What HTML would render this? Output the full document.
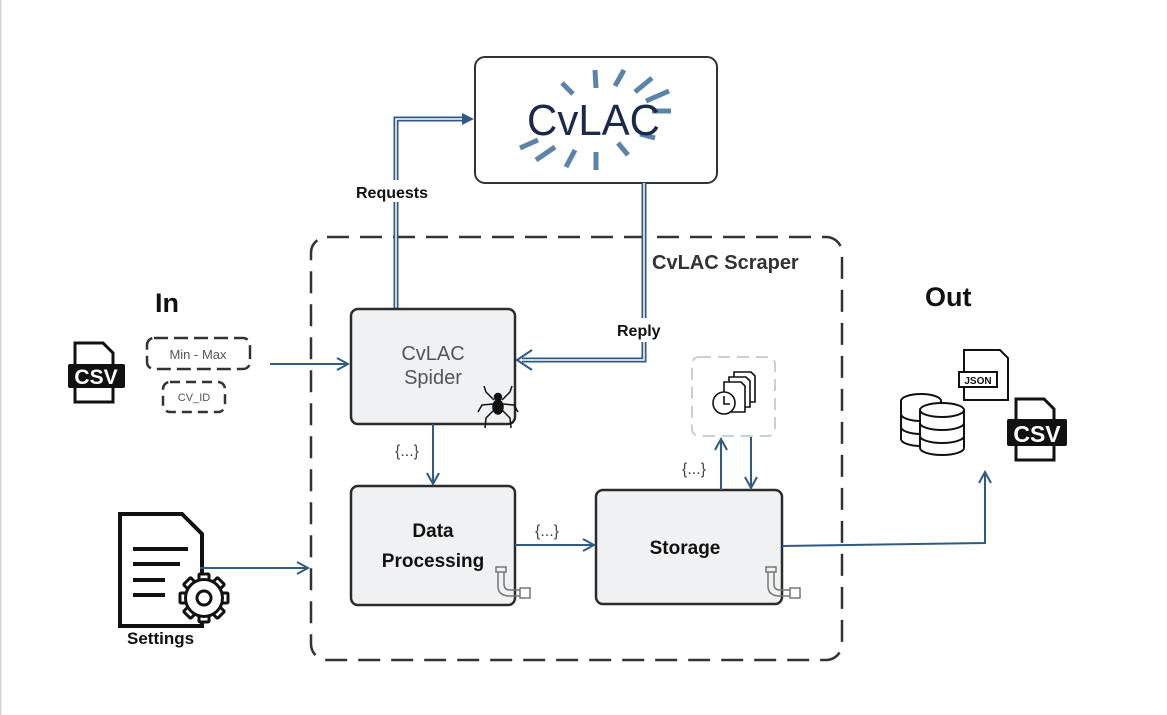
<!DOCTYPE html>
<html><head><meta charset="utf-8"><style>
html,body{margin:0;padding:0;background:#fff;width:1167px;height:715px;overflow:hidden}
svg{display:block}
text{font-family:"Liberation Sans","DejaVu Sans",sans-serif}
</style></head><body>
<svg width="1167" height="715" viewBox="0 0 1167 715" xmlns="http://www.w3.org/2000/svg">
<defs>
<marker id="oa" markerWidth="14" markerHeight="14" refX="12" refY="7" orient="auto" markerUnits="userSpaceOnUse">
<path d="M1,1 L12,7 L1,13" fill="none" stroke="#2f5a85" stroke-width="2"/></marker>
</defs>
<line x1="0.5" y1="0" x2="0.5" y2="715" stroke="#d4d4d4" stroke-width="2"/>

<!-- dashed container -->
<rect x="311" y="237" width="531" height="423" rx="16" fill="none" stroke="#333" stroke-width="2.5" stroke-dasharray="22,11"/>
<text x="652" y="269" font-size="20" font-weight="bold" fill="#333">CvLAC Scraper</text>

<!-- CvLAC box -->
<rect x="475" y="57" width="242" height="126" rx="10" fill="#fff" stroke="#333" stroke-width="2"/>
<g stroke="#5b84ab" stroke-width="5" stroke-linecap="butt">
<line x1="595" y1="70" x2="596" y2="88"/><line x1="624" y1="70" x2="615" y2="86"/><line x1="652" y1="78" x2="635" y2="92"/>
<line x1="669" y1="91" x2="646" y2="101"/><line x1="671" y1="111" x2="652" y2="111"/><line x1="562" y1="83" x2="573" y2="94"/>
<line x1="520" y1="148" x2="538" y2="140"/><line x1="536" y1="160" x2="555" y2="147"/><line x1="566" y1="167" x2="575" y2="150"/>
<line x1="596" y1="170" x2="596" y2="152"/><line x1="628" y1="155" x2="618" y2="143"/><line x1="655" y1="138" x2="640" y2="134"/>
</g>
<text x="527" y="135" font-size="44" fill="#1c2a4a" textLength="133" lengthAdjust="spacingAndGlyphs">CvLAC</text>

<!-- Requests connector (double) -->
<path d="M396,309 V119 H466" fill="none" stroke="#2f5a85" stroke-width="5"/>
<path d="M396,309 V119 H466" fill="none" stroke="#fff" stroke-width="1.5"/>
<path d="M462,113 L474,119 L462,125 Z" fill="#2f5a85"/>
<rect x="354" y="180" width="88" height="22" fill="#fff"/>
<text x="356" y="198" font-size="16" font-weight="bold" fill="#111">Requests</text>

<!-- Reply connector (double) -->
<path d="M644,183 V360 H522" fill="none" stroke="#2f5a85" stroke-width="5"/>
<path d="M644,183 V360 H522" fill="none" stroke="#fff" stroke-width="1.5"/>
<path d="M532,350 L517,360 L532,370" fill="none" stroke="#2f5a85" stroke-width="2"/>
<rect x="614" y="318" width="58" height="24" fill="#fff"/>
<text x="617" y="336" font-size="16" font-weight="bold" fill="#111">Reply</text>

<!-- boxes -->
<rect x="351" y="309" width="164" height="115" rx="7" fill="#f0f1f3" stroke="#2b2b2b" stroke-width="2.5"/>
<text x="433" y="360" font-size="20" fill="#555" text-anchor="middle">CvLAC</text>
<text x="433" y="384" font-size="20" fill="#555" text-anchor="middle">Spider</text>
<rect x="351" y="486" width="164" height="119" rx="7" fill="#f0f1f3" stroke="#2b2b2b" stroke-width="2.5"/>
<text x="433" y="537" font-size="19" font-weight="bold" fill="#111" text-anchor="middle">Data</text>
<text x="433" y="567" font-size="19" font-weight="bold" fill="#111" text-anchor="middle">Processing</text>
<rect x="596" y="490" width="186" height="114" rx="7" fill="#f0f1f3" stroke="#2b2b2b" stroke-width="2.5"/>
<text x="685" y="554" font-size="19" font-weight="bold" fill="#111" text-anchor="middle">Storage</text>

<!-- spider -->
<g stroke="#111" stroke-width="1.5" fill="none">
<ellipse cx="498" cy="407" rx="5" ry="7" fill="#111"/><circle cx="498" cy="397" r="3.5" fill="#111"/>
<path d="M494,400 L486,392 L484,386"/><path d="M502,400 L510,392 L512,386"/>
<path d="M493,404 L482,405 L478,412"/><path d="M503,404 L514,405 L518,412"/>
<path d="M494,410 L486,418 L485,428"/><path d="M502,410 L510,418 L511,428"/>
</g>
<!-- pipes -->
<g stroke="#777" stroke-width="1.5" fill="none">
<path d="M498,572 V586 Q498,596 510,596 H520"/><path d="M504,572 V584 Q504,590 510,590 H520"/>
<rect x="496" y="567" width="10" height="5"/><rect x="520" y="588" width="10" height="10"/>
<path d="M768,572 V586 Q768,596 780,596 H790"/><path d="M774,572 V584 Q774,590 780,590 H790"/>
<rect x="766" y="567" width="10" height="5"/><rect x="790" y="588" width="10" height="10"/>
</g>

<!-- arrows inside -->
<line x1="433" y1="424" x2="433" y2="484" stroke="#2f5a85" stroke-width="2" marker-end="url(#oa)"/>
<text x="395" y="456" font-size="16" fill="#444">{...}</text>
<line x1="515" y1="545" x2="594" y2="545" stroke="#2f5a85" stroke-width="2" marker-end="url(#oa)"/>
<text x="535" y="536" font-size="16" fill="#444">{...}</text>
<line x1="721" y1="490" x2="721" y2="439" stroke="#2f5a85" stroke-width="2" marker-end="url(#oa)"/>
<line x1="751" y1="437" x2="751" y2="488" stroke="#2f5a85" stroke-width="2" marker-end="url(#oa)"/>
<text x="682" y="474" font-size="16" fill="#444">{...}</text>

<!-- clock box -->
<rect x="692" y="357" width="83" height="79" rx="7" fill="none" stroke="#c8cfd8" stroke-width="2" stroke-dasharray="12,7"/>
<g stroke="#111" stroke-width="1.6" fill="#fff">
<path d="M734,372 h17 l4,4 v26 h-21 z"/><path d="M729,377 h17 l4,4 v26 h-21 z"/><path d="M724,382 h17 l4,4 v26 h-21 z"/>
<circle cx="724" cy="403" r="11"/><path d="M724,396 v8 h6" fill="none"/>
</g>

<!-- out connector -->
<path d="M782,546 L985,543 V472" fill="none" stroke="#2f5a85" stroke-width="2" marker-end="url(#oa)"/>

<!-- In -->
<text x="155" y="312" font-size="27" font-weight="bold" fill="#111">In</text>
<text x="925" y="306" font-size="27" font-weight="bold" fill="#111">Out</text>
<rect x="147" y="338" width="103" height="31" rx="7" fill="#fff" stroke="#333" stroke-width="2.5" stroke-dasharray="14,6"/>
<text x="198" y="359" font-size="13" fill="#555" text-anchor="middle">Min - Max</text>
<rect x="163" y="382" width="62" height="30" rx="7" fill="#fff" stroke="#333" stroke-width="2.5" stroke-dasharray="10,6"/>
<text x="194" y="401" font-size="11" fill="#555" text-anchor="middle">CV_ID</text>
<line x1="270" y1="364" x2="348" y2="364" stroke="#2f5a85" stroke-width="2" marker-end="url(#oa)"/>

<!-- CSV icon left -->
<path d="M75,343 h28 l10,10 v49 h-38 z" fill="#fff" stroke="#111" stroke-width="3"/>
<rect x="68" y="364" width="57" height="24" rx="2" fill="#111"/>
<text x="96" y="384" font-size="21" font-weight="bold" fill="#fff" text-anchor="middle">CSV</text>

<!-- settings icon -->
<path d="M120,514 h62 l20,20 v92 h-82 z" fill="#fff" stroke="#111" stroke-width="4"/>
<g stroke="#111" stroke-width="4"><line x1="133" y1="549" x2="188" y2="549"/><line x1="133" y1="564" x2="180" y2="564"/><line x1="133" y1="580" x2="165" y2="580"/><line x1="133" y1="595" x2="165" y2="595"/></g>
<g transform="translate(204,598)" stroke="#111" stroke-width="3" fill="#fff">
<g>
<rect x="-5" y="-24" width="10" height="48" rx="1"/>
<rect x="-5" y="-24" width="10" height="48" rx="1" transform="rotate(45)"/>
<rect x="-5" y="-24" width="10" height="48" rx="1" transform="rotate(90)"/>
<rect x="-5" y="-24" width="10" height="48" rx="1" transform="rotate(135)"/>
</g>
<circle r="18.5"/>
<circle r="7"/>
</g>
<text x="127" y="644" font-size="17" font-weight="bold" fill="#111">Settings</text>
<line x1="200" y1="568" x2="308" y2="568" stroke="#2f5a85" stroke-width="2" marker-end="url(#oa)"/>

<!-- out icons -->
<g stroke="#111" stroke-width="2" fill="#fff">
<path d="M964,350 h36 l8,8 v42 h-44 z"/>
<path d="M901,401 a20,7 0 0 1 40,0 v38 a20,7 0 0 1 -40,0 z"/><path d="M901,414 a20,7 0 0 0 40,0 M901,427 a20,7 0 0 0 40,0"/>
<path d="M920,410 a22,7 0 0 1 44,0 v38 a22,7 0 0 1 -44,0 z"/><path d="M920,410 a22,7 0 0 0 44,0 M920,423 a22,7 0 0 0 44,0 M920,436 a22,7 0 0 0 44,0"/>
<path d="M1016,399 h28 l10,10 v51 h-38 z" stroke-width="3"/>
</g>
<rect x="959" y="372" width="38" height="15" fill="#fff" stroke="#111" stroke-width="2"/>
<text x="978" y="384" font-size="10" font-weight="bold" fill="#111" text-anchor="middle">JSON</text>
<rect x="1007" y="419" width="60" height="27" rx="2" fill="#111"/>
<text x="1037" y="442" font-size="23" font-weight="bold" fill="#fff" text-anchor="middle">CSV</text>
</svg>
</body></html>
